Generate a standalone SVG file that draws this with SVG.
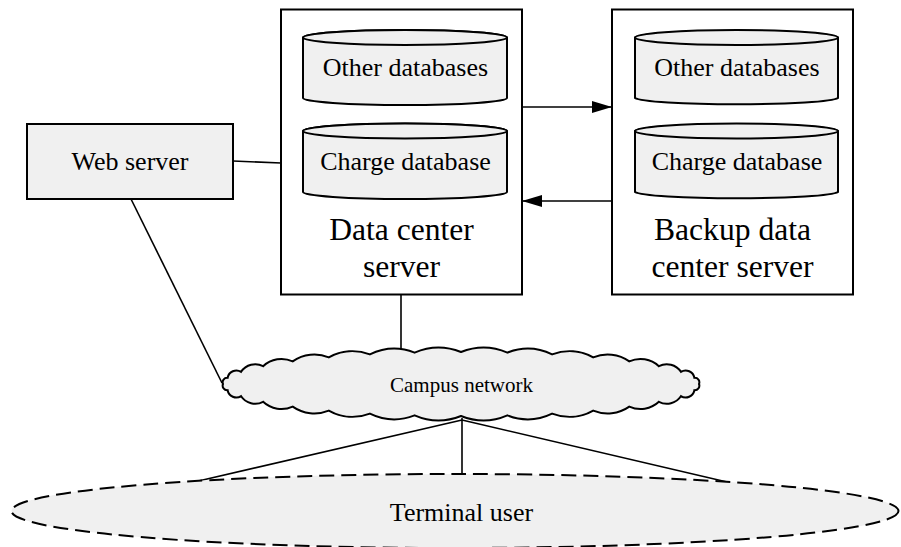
<svg xmlns="http://www.w3.org/2000/svg" width="901" height="547" viewBox="0 0 901 547">
<defs>
<style>
.box{fill:#ffffff;stroke:#000;stroke-width:2}
.gray{fill:#f0f0f0;stroke:#000;stroke-width:2}
.ln{fill:none;stroke:#000;stroke-width:1.6}
.t{font-family:"Liberation Serif","Times New Roman",serif;fill:#000;text-anchor:middle}
.db{font-size:26px}
.big{font-size:31.6px}
</style>
<marker id="ah" viewBox="0 0 20 12" refX="20" refY="6" markerWidth="20" markerHeight="12" markerUnits="userSpaceOnUse" orient="auto">
<path d="M0,0 L20,6 L0,12 Z" fill="#000"/>
</marker>
</defs>
<rect width="901" height="547" fill="#fff"/>
<g id="connectors">
<line class="ln" x1="233" y1="161" x2="281" y2="163"/>
<line class="ln" x1="131" y1="199" x2="222" y2="383"/>
<line class="ln" x1="401" y1="294" x2="401" y2="352"/>
<line class="ln" x1="522" y1="107" x2="612" y2="107" marker-end="url(#ah)"/>
<line class="ln" x1="612" y1="201" x2="522" y2="201" marker-end="url(#ah)"/>
<line class="ln" x1="462" y1="418" x2="462" y2="475"/>
<line class="ln" x1="462" y1="420" x2="192" y2="482.5"/>
<line class="ln" x1="462" y1="420" x2="727" y2="482"/>
</g>
<g id="web-server">
<rect class="gray" x="27" y="124" width="206" height="75"/>
<text class="t db" x="130" y="170">Web server</text>
</g>
<g id="data-center-server">
<rect class="box" x="281" y="9.5" width="241" height="285"/>
<text class="t big" x="401.5" y="240">Data center</text>
<text class="t big" x="401.5" y="277">server</text>
</g>
<g id="dc-other-databases">
<path class="gray" d="M303,37.5 L303,98 A102,7 0 0 0 507,98 L507,37.5 A102,7.5 0 0 0 303,37.5 Z"/>
<ellipse class="gray" cx="405" cy="37.5" rx="102" ry="7.5"/>
<text class="t db" x="405.5" y="76">Other databases</text>
</g>
<g id="dc-charge-database">
<path class="gray" d="M303,131 L303,192 A102,7 0 0 0 507,192 L507,131 A102,7.5 0 0 0 303,131 Z"/>
<ellipse class="gray" cx="405" cy="131" rx="102" ry="7.5"/>
<text class="t db" x="405.5" y="170">Charge database</text>
</g>
<g id="backup-data-center-server">
<rect class="box" x="612" y="9.5" width="241" height="285"/>
<text class="t big" x="732.5" y="240">Backup data</text>
<text class="t big" x="732.5" y="277">center server</text>
</g>
<g id="bk-other-databases">
<path class="gray" d="M635,37.5 L635,98 A102,7 0 0 0 838,98 L838,37.5 A102,7.5 0 0 0 635,37.5 Z"/>
<ellipse class="gray" cx="736.5" cy="37.5" rx="101.5" ry="7.5"/>
<text class="t db" x="737" y="76">Other databases</text>
</g>
<g id="bk-charge-database">
<path class="gray" d="M635,131 L635,192 A102,7 0 0 0 838,192 L838,131 A102,7.5 0 0 0 635,131 Z"/>
<ellipse class="gray" cx="736.5" cy="131" rx="101.5" ry="7.5"/>
<text class="t db" x="737" y="170">Charge database</text>
</g>
<g id="campus-network">
<path class="gray" d="M699,384 A4.5,4.5 0 0 1 694.4,390.2 A9,9 0 0 1 680.9,396.2 A17,17 0 0 1 658.9,401.8 A27,27 0 0 1 629.3,406.6 A38,38 0 0 1 593.2,410.6 A48,48 0 0 1 552.1,413.6 A56,56 0 0 1 507.4,415.4 A60,60 0 0 1 461,416 A60,60 0 0 1 414.6,415.4 A56,56 0 0 1 369.9,413.6 A48,48 0 0 1 328.8,410.6 A38,38 0 0 1 292.7,406.6 A27,27 0 0 1 263.1,401.8 A17,17 0 0 1 241.1,396.2 A9,9 0 0 1 227.6,390.2 A4.5,4.5 0 0 1 223,384 A4.5,4.5 0 0 1 227.6,377.8 A9,9 0 0 1 241.1,371.8 A17,17 0 0 1 263.1,366.2 A27,27 0 0 1 292.7,361.4 A38,38 0 0 1 328.8,357.4 A48,48 0 0 1 369.9,354.4 A56,56 0 0 1 414.6,352.6 A60,60 0 0 1 461,352 A60,60 0 0 1 507.4,352.6 A56,56 0 0 1 552.1,354.4 A48,48 0 0 1 593.2,357.4 A38,38 0 0 1 629.3,361.4 A27,27 0 0 1 658.9,366.2 A17,17 0 0 1 680.9,371.8 A9,9 0 0 1 694.4,377.8 A4.5,4.5 0 0 1 699,384 Z"/>
<text class="t" style="font-size:21px" x="461.5" y="391.5">Campus network</text>
</g>
<g id="terminal-user">
<ellipse cx="455" cy="511" rx="443.5" ry="37" fill="#f0f0f0" stroke="#000" stroke-width="2" stroke-dasharray="15 7"/>
<text class="t db" x="461.5" y="521">Terminal user</text>
</g>
</svg>
